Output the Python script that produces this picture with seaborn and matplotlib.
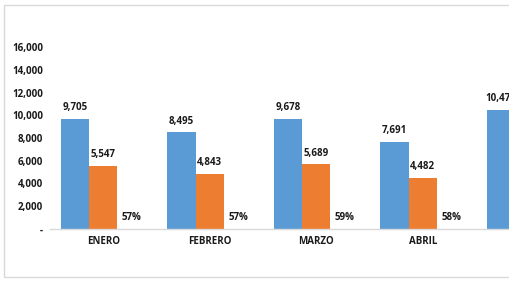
import matplotlib
matplotlib.use("Agg")
import matplotlib.pyplot as plt
import matplotlib.patches as mpatches
import numpy as np
import pandas as pd
import seaborn as sns

# ---- data ----
months = ["ENERO", "FEBRERO", "MARZO", "ABRIL", "MAYO"]
total = [9705, 8495, 9678, 7691, 10470]
parcial = [5547, 4843, 5689, 4482, None]
porcentaje = [0.57, 0.57, 0.59, 0.58, None]
series_names = ["Total", "Parcial", "Porcentaje"]
colors = ["#5B9BD5", "#ED7D31", "#A5A5A5"]
y_ticks = [0, 2000, 4000, 6000, 8000, 10000, 12000, 14000, 16000]

rows = []
for name, vals in zip(series_names, [total, parcial, porcentaje]):
    for m, v in zip(months, vals):
        if v is not None:
            rows.append({"mes": m, "serie": name, "valor": v})
df = pd.DataFrame(rows)

sns.set_theme(style="white")
plt.rcParams["font.family"] = ["Open Sans", "DejaVu Sans"]

W, H = 509, 284
fig = plt.figure(figsize=(W / 100, H / 100), dpi=100)
left_px, base_px = 50, 229
top_px = base_px - 18000 * (229 - 47) / 16000
ax = fig.add_axes([left_px / W, (H - base_px) / H, 5 * 106.5 / W, (base_px - top_px) / H])

sns.barplot(data=df, x="mes", y="valor", hue="serie", order=months,
            hue_order=series_names, palette=colors, width=0.8, gap=0,
            saturation=1, legend=False, ax=ax, errorbar=None, linewidth=0)

FS = 7
for i, cont in enumerate(ax.containers):
    vals = cont.datavalues
    if i == 2:
        labels = [f"{v:.0%}" for v in vals]
    else:
        labels = [f"{v:,.0f}" for v in vals]
    ax.bar_label(cont, labels=labels, padding=4, fontsize=FS, fontweight="bold",
                 color="#1a1a1a")

ax.set_xlim(-0.5, 4.5)
ax.set_ylim(0, 18000)
ax.set_yticks(y_ticks)
ax.set_yticklabels(["-" if t == 0 else f"{t:,}" for t in y_ticks])
ax.set_xlabel("")
ax.set_ylabel("")
for lab in ax.get_xticklabels() + ax.get_yticklabels():
    lab.set_fontweight("bold")
    lab.set_fontsize(FS)
    lab.set_color("#1a1a1a")
ax.tick_params(axis="both", length=0)
ax.tick_params(axis="y", pad=5)
ax.tick_params(axis="x", pad=5)
for s in ["top", "right", "left"]:
    ax.spines[s].set_visible(False)
ax.spines["bottom"].set_color("#D9D9D9")
ax.spines["bottom"].set_linewidth(1)
ax.grid(False)
ax.patch.set_alpha(0)

border = mpatches.Rectangle((4 / W, (H - 277) / H), 1.2, (277 - 5) / H,
                            transform=fig.transFigure, fill=False,
                            edgecolor="#D9D9D9", linewidth=1)
fig.patches.append(border)

fig.savefig("out.png", dpi=100)
